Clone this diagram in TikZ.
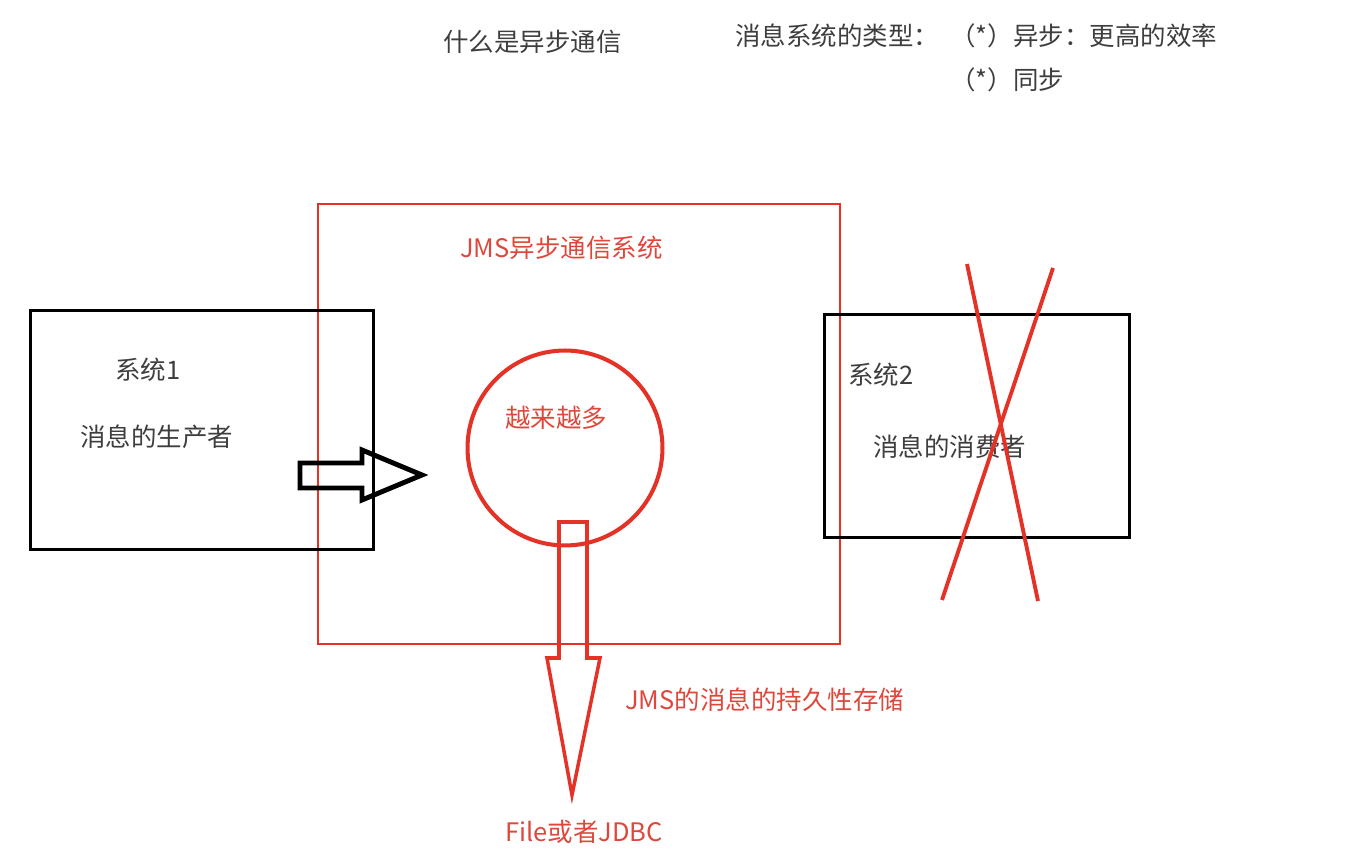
\documentclass[tikz,border=0pt]{standalone}
\usepackage{fontspec}
\setmainfont{Noto Sans CJK SC}
\usepackage{xcolor}
\usepackage{tikz}
\usetikzlibrary{positioning}
\definecolor{jmsred}{RGB}{228,50,38}
\definecolor{jmstext}{RGB}{222,72,60}
\definecolor{inkgray}{RGB}{62,62,62}
\tikzset{
  sysbox/.style={
    draw=black, line width=1.7pt, rectangle, inner sep=0pt
  },
  jmsbox/.style={
    draw=jmsred, line width=1.4pt, rectangle, inner sep=0pt
  },
  queuering/.style={
    draw=jmsred, line width=2.3pt, circle, inner sep=0pt,
    minimum size=3.9cm
  },
  plainlabel/.style={
    anchor=west, inner sep=0pt, text=inkgray,
    font=\fontsize{14.5pt}{17pt}\selectfont
  },
  redlabel/.style={
    plainlabel, text=jmstext
  },
  blockarrow/.style={line width=2.8pt, line join=miter},
  crossline/.style={draw=jmsred, line width=2.2pt},
}

\begin{document}
\begin{tikzpicture}[x=0.02cm, y=-0.02cm]
  \useasboundingbox (0,0) rectangle (1347,854);

  % Title texts
  \node[plainlabel] (what) at (443,42) {什么是异步通信};
  \node[plainlabel] (types) at (735,36) {消息系统的类型：};
  \node[plainlabel, right=6pt of types] (async) {（*）异步：更高的效率};
  \node[plainlabel, below=25pt of async.west, anchor=west] (sync) {（*）同步};

  % JMS system
  \node[jmsbox, minimum width=10.44cm, minimum height=8.8cm] (jms) at (579,424) {};
  \node[redlabel] (jmstitle) at (460,248) {JMS异步通信系统};
  \node[queuering] (queue) at (565,448) {};
  \node[redlabel] (more) at (505,418) {越来越多};

  % Producer
  \node[sysbox, minimum width=6.88cm, minimum height=4.8cm] (sys1) at (202,430) {};
  \node[plainlabel] (sys1name) at (115,370) {系统1};
  \node[plainlabel] (producer) at (80,437) {消息的生产者};

  % Consumer
  \node[sysbox, minimum width=6.12cm, minimum height=4.48cm] (sys2) at (977,426) {};
  \node[plainlabel] (sys2name) at (848,375) {系统2};
  \node[plainlabel] (consumer) at (873,447) {消息的消费者};

  % Cross over the consumer
  \coordinate (xa1) at (967,264);
  \coordinate (xa2) at (1038,601);
  \coordinate (xb1) at (1053,268);
  \coordinate (xb2) at (942,600);
  \draw[crossline] (xa1) -- (xa2);
  \draw[crossline] (xb1) -- (xb2);

  % Arrow into the JMS system
  \draw[blockarrow] (300,463) -- (362,463) -- (362,450) -- (422,475)
    -- (362,500) -- (362,488) -- (300,488) -- cycle;

  % Arrow to storage
  \draw[blockarrow, draw=jmsred, line width=2pt]
    (559,522) -- (587,522) -- (587,658) -- (600,658) -- (572,795)
    -- (547,658) -- (559,658) -- cycle;
  \node[redlabel] (persist) at (625,700) {JMS的消息的持久性存储};
  \node[redlabel] (store) at (505,832) {File或者JDBC};
\end{tikzpicture}
\end{document}
